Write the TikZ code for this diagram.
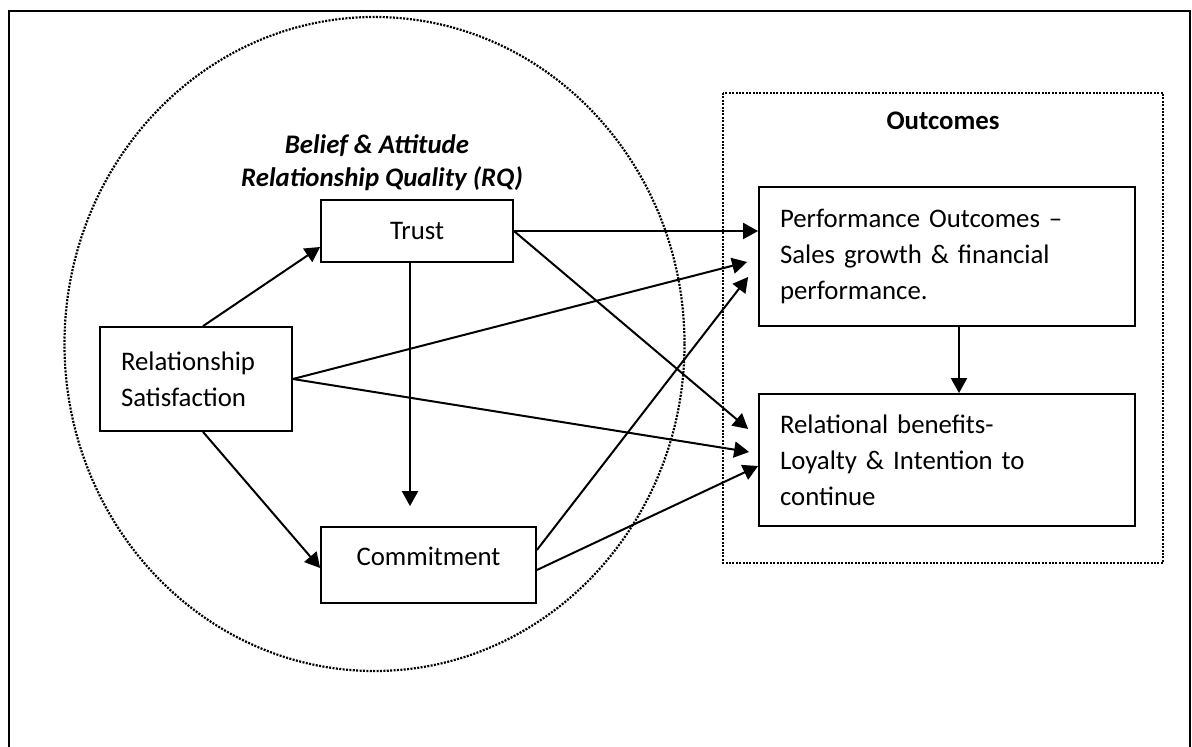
\documentclass[tikz,border=0pt]{standalone}
\usepackage{fontspec}
\setmainfont{Carlito}
\usetikzlibrary{arrows.meta,calc}

\begin{document}
\begin{tikzpicture}[x=0.5pt, y=-0.5pt, font=\fontsize{13.4}{18}\selectfont,
    frame/.style={draw=black, line width=1.2pt},
    dots/.style={draw=black, line width=1.1pt, dash pattern=on 1pt off 0.7pt},
    box/.style={draw=black, fill=white, line width=0.9pt, inner sep=0pt},
    txtbox/.style={box, align=left, inner xsep=10.5pt},
    arr/.style={draw=black, line width=1pt, -{Triangle[length=7.5pt, width=8pt]}},
    head/.style={font=\fontsize{13.4}{16}\selectfont\bfseries\itshape},
  ]
  \useasboundingbox (0,0) rectangle (1192,747);

  % page frame, open at the bottom
  \draw[frame] (9,748) -- (9,11) -- (1190,11) -- (1190,748);

  % dotted groups: the RQ oval and the outcomes panel
  \draw[dots] (374.5,344) ellipse [x radius=310, y radius=327];
  \draw[dots] (723,93) rectangle (1163,563);

  % group titles
  \node[head, anchor=base east] (rqtop) at (476,154) {Belief \& Attitude};
  \node[head, anchor=base east] (rqbot) at (530,187) {Relationship Quality (RQ)};
  \node[font=\fontsize{13.4}{18}\selectfont\bfseries, anchor=base] (outc) at (943,130) {Outcomes};

  % constructs
  \node[box, minimum width=96pt, minimum height=31pt] (trust) at (417,231) {Trust};
  \node[txtbox, text width=75pt, minimum height=52pt] (rs) at (196,379) {Relationship\\Satisfaction};
  \node[box, minimum width=107.5pt, minimum height=38pt, text depth=9pt] (commit) at (428.5,565) {Commitment};
  \node[txtbox, text width=167pt, minimum height=69.5pt] (perf) at (947,256.5)
    {Performance Outcomes --\\Sales growth \& financial\\performance.};
  \node[txtbox, text width=167pt, minimum height=66pt] (rel) at (947,460)
    {Relational benefits-\\Loyalty \& Intention to\\continue};

  % links
  \draw[arr] ($(rs.north)+(7,0)$) -- ($(trust.west)+(0,16)$);
  \draw[arr] ($(rs.south)+(7,0)$) -- ($(commit.west)+(0,3)$);
  \draw[arr] ($(trust.south)+(-7,0)$) -- ($(commit.north)+(-18.5,-20)$);
  \draw[arr] (trust.east) -- (trust.east -| perf.west);
  \draw[arr] (trust.east) -- ($(rel.west)+(-10,-31)$);
  \draw[arr] (rs.east) -- ($(perf.west)+(-11,5.5)$);
  \draw[arr] (rs.east) -- ($(rel.west)+(-9,-8)$);
  \draw[arr] ($(commit.east)+(0,-15)$) -- ($(perf.west)+(-10,20.5)$);
  \draw[arr] ($(commit.east)+(0,5)$) -- ($(rel.west)+(0,6)$);
  \draw[arr] ($(perf.south)+(12,0)$) -- ($(rel.north)+(12,0)$);
\end{tikzpicture}
\end{document}
